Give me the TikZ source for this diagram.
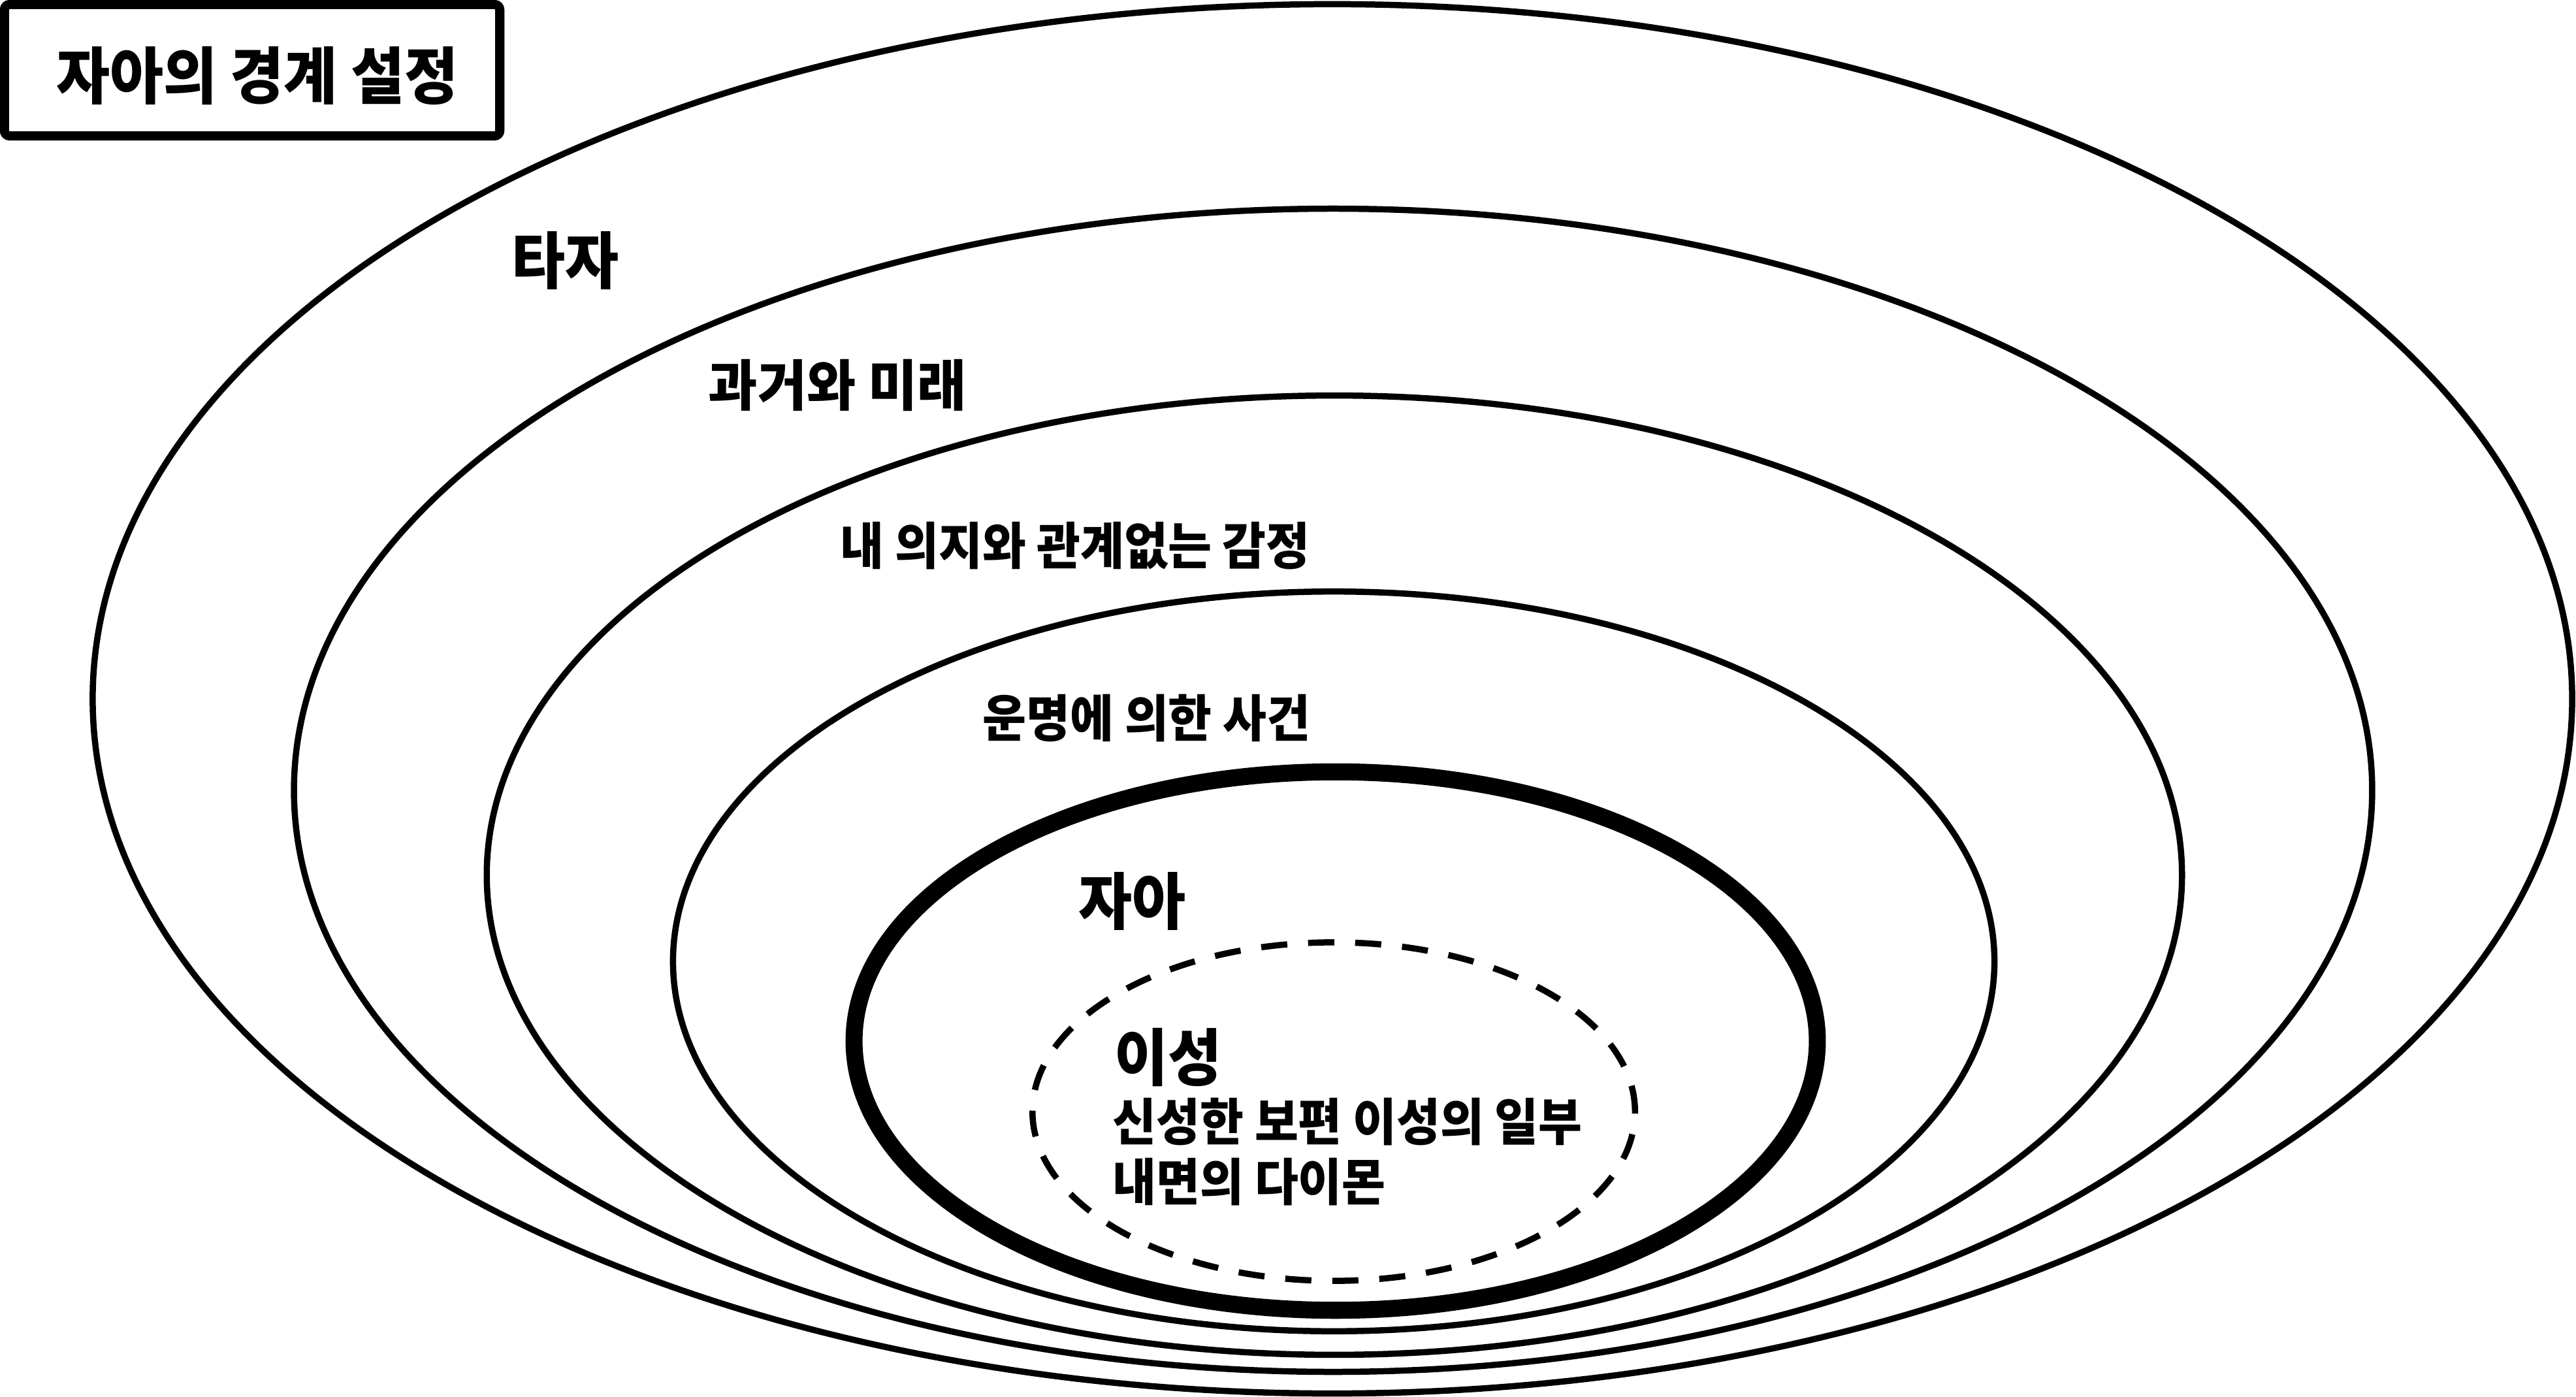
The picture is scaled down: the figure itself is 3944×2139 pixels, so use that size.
\documentclass[tikz,border=0pt]{standalone}
\usepackage{fontspec}
\newfontfamily\kr[FakeStretch=0.94]{Noto Sans CJK KR}
\newfontfamily\krwide[FakeStretch=0.97]{Noto Sans CJK KR}
\tikzset{
  ring/.style={draw=black,line width=2.7pt},
  selfring/.style={draw=black,line width=7.4pt},
  reasonring/.style={draw=black,line width=2.7pt,dash pattern=on 0.40cm off 0.32cm},
  titlebox/.style={draw=black,line width=4pt,rounded corners=0.08cm,minimum width=7.58cm,minimum height=2.01cm,inner sep=0pt},
  biglbl/.style={anchor=west,inner sep=0pt,font=\kr\bfseries\fontsize{27}{32}\selectfont},
  midlbl/.style={anchor=west,inner sep=0pt,font=\krwide\bfseries\fontsize{24}{28}\selectfont},
  smalllbl/.style={anchor=west,inner sep=0pt,font=\kr\bfseries\fontsize{22}{26}\selectfont},
}
\begin{document}
\begin{tikzpicture}[x=0.01cm,y=-0.01cm]
\useasboundingbox (0,0) rectangle (3944,2139);
% rings
\draw[ring] (2040,1070) ellipse [x radius=18.97cm, y radius=10.63cm];
\draw[ring] (2041,1210) ellipse [x radius=15.90cm, y radius=8.90cm];
\draw[ring] (2043,1340) ellipse [x radius=12.97cm, y radius=7.34cm];
\draw[ring] (2042,1472) ellipse [x radius=10.11cm, y radius=5.66cm];
\draw[selfring] (2045,1594) ellipse [x radius=7.37cm, y radius=4.12cm];
\draw[reasonring] (2042,1702) ellipse [x radius=4.61cm, y radius=2.59cm];
% title
\node[titlebox] (titlebox) at (386,107.5) {};
\node[biglbl,anchor=center] (title) at (394,116) {자아의 경계 설정};
% labels
\node[biglbl] (other) at (783,399) {타자};
\node[midlbl] (time) at (1084,590) {과거와 미래};
\node[smalllbl] (emotion) at (1286,836) {내 의지와 관계없는 감정};
\node[smalllbl] (fate) at (1504,1100) {운명에 의한 사건};
\node[biglbl] (self) at (1651,1380) {자아};
\node[biglbl] (reason) at (1706,1619) {이성};
\node[smalllbl] (divine) at (1703,1718) {신성한 보편 이성의 일부};
\node[smalllbl] (daimon) at (1703,1810) {내면의 다이몬};
\end{tikzpicture}
\end{document}
